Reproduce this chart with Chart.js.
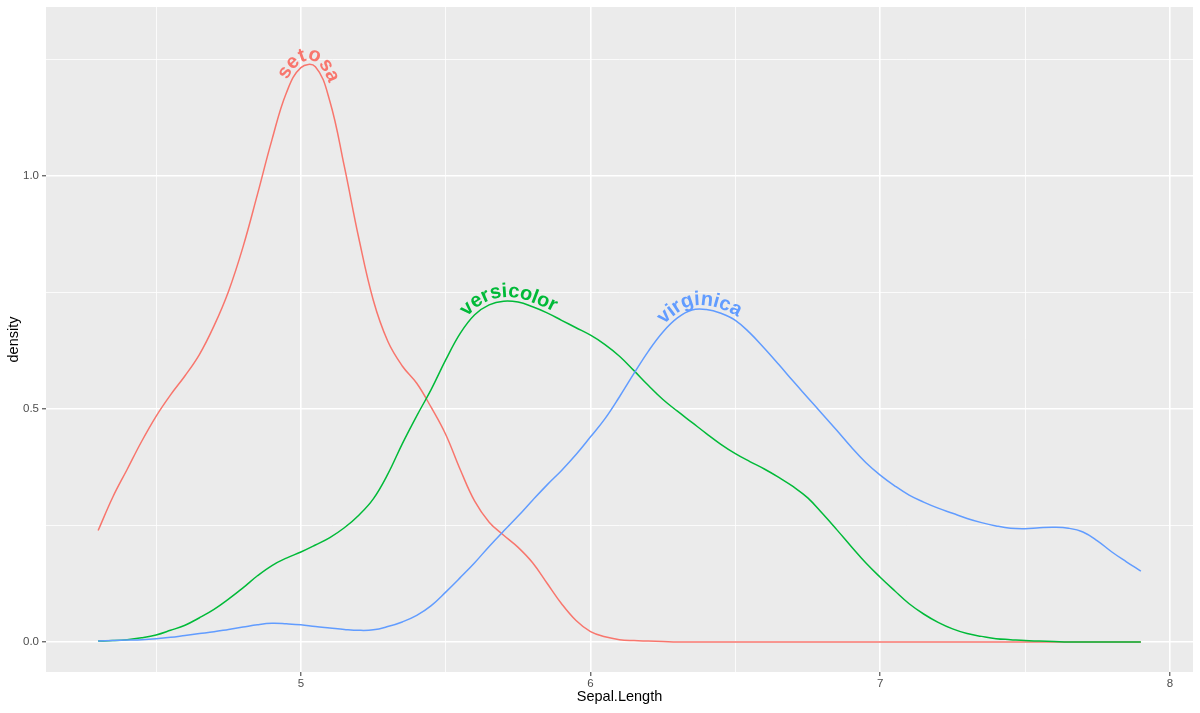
<!DOCTYPE html>
<html>
<head>
<meta charset="utf-8">
<script src="https://cdn.jsdelivr.net/npm/chart.js@4"></script>
<style>
html,body{margin:0;padding:0;background:#ffffff;}
#wrap{width:1200px;height:713px;}
</style>
</head>
<body>
<div id="wrap"><canvas id="c" width="1200" height="713"></canvas></div>
<script>
// ---- Data ----
const sepalLength = [4.30,4.35,4.40,4.45,4.50,4.55,4.60,4.65,4.70,4.75,4.80,4.85,4.90,4.95,5.00,5.05,5.10,5.15,5.20,5.25,5.30,5.35,5.40,5.45,5.50,5.55,5.60,5.65,5.70,5.75,5.80,5.85,5.90,5.95,6.00,6.05,6.10,6.15,6.20,6.25,6.30,6.35,6.40,6.45,6.50,6.55,6.60,6.65,6.70,6.75,6.80,6.85,6.90,6.95,7.00,7.05,7.10,7.15,7.20,7.25,7.30,7.35,7.40,7.45,7.50,7.55,7.60,7.65,7.70,7.75,7.80,7.85,7.90];

const setosa = [0.239,0.310,0.370,0.430,0.484,0.530,0.571,0.617,0.678,0.752,0.847,0.960,1.077,1.178,1.232,1.234,1.160,1.020,0.866,0.733,0.645,0.592,0.555,0.503,0.445,0.370,0.302,0.257,0.229,0.203,0.170,0.126,0.082,0.046,0.022,0.011,0.005,0.003,0.002,0.001,0,0,0,0,0,0,0,0,0,0,0,0,0,0,0,0,0,0,0,0,0,0,0,0,0,0,0,0,0,0,0,0,0];

const versicolor = [0.002,0.003,0.005,0.009,0.015,0.025,0.036,0.052,0.070,0.092,0.116,0.142,0.164,0.180,0.193,0.208,0.224,0.245,0.272,0.307,0.360,0.425,0.485,0.542,0.605,0.662,0.702,0.723,0.731,0.729,0.719,0.706,0.690,0.674,0.658,0.638,0.613,0.582,0.550,0.520,0.495,0.471,0.447,0.424,0.404,0.387,0.371,0.353,0.333,0.309,0.276,0.241,0.205,0.170,0.139,0.110,0.082,0.060,0.042,0.028,0.018,0.012,0.007,0.005,0.003,0.002,0.001,0,0,0,0,0,0];

const virginica = [0.002,0.003,0.004,0.005,0.007,0.010,0.014,0.018,0.022,0.027,0.032,0.037,0.040,0.039,0.037,0.033,0.030,0.027,0.025,0.026,0.033,0.043,0.057,0.078,0.107,0.138,0.170,0.205,0.238,0.270,0.304,0.337,0.368,0.402,0.440,0.479,0.526,0.576,0.624,0.665,0.695,0.712,0.713,0.705,0.690,0.663,0.630,0.595,0.559,0.524,0.489,0.454,0.418,0.385,0.358,0.335,0.315,0.300,0.287,0.276,0.265,0.256,0.249,0.244,0.243,0.245,0.246,0.244,0.236,0.217,0.193,0.172,0.152];

const speciesNames = ['setosa','versicolor','virginica'];
const speciesColors = ['#F8766D','#00BA38','#619CFF'];

const xTickValues = [5,6,7,8];
const xTickLabels = ['5','6','7','8'];
const xMinorValues = [4.5,5.5,6.5,7.5];
const yTickValues = [0,0.5,1.0];
const yTickLabels = ['0.0','0.5','1.0'];
const yMinorValues = [0.25,0.75,1.25];

const xTitle = 'Sepal.Length';
const yTitle = 'density';

// ---- Chart ----
const FONT = '"Liberation Sans", Arial, Helvetica, sans-serif';
Chart.defaults.font.family = FONT;

const seriesValues = [setosa, versicolor, virginica];

function idxOf(arr, v){ for(let i=0;i<arr.length;i++){ if(Math.abs(arr[i]-v)<1e-9) return i; } return -1; }

const panelBg = {
  id: 'panelBg',
  beforeDraw(chart){
    const {ctx, chartArea:a} = chart;
    ctx.save();
    ctx.fillStyle = '#EBEBEB';
    ctx.fillRect(a.left, a.top, a.right - a.left, a.bottom - a.top);
    ctx.restore();
  }
};

const textPath = {
  id: 'textPath',
  afterDatasetsDraw(chart){
    const ctx = chart.ctx;
    const a = chart.chartArea;
    ctx.save();
    ctx.beginPath();
    ctx.rect(a.left, a.top, a.right - a.left, a.bottom - a.top);
    ctx.clip();
    ctx.font = 'bold 20px ' + FONT;
    ctx.textAlign = 'center';
    ctx.textBaseline = 'alphabetic';
    chart.data.datasets.forEach((ds, di) => {
      const pts = chart.getDatasetMeta(di).data;
      const dense = [];
      const N = 12;
      for (let i = 0; i < pts.length - 1; i++) {
        const p = pts[i], q = pts[i+1];
        const c1x = (p.cp2x !== undefined) ? p.cp2x : p.x;
        const c1y = (p.cp2y !== undefined) ? p.cp2y : p.y;
        const c2x = (q.cp1x !== undefined) ? q.cp1x : q.x;
        const c2y = (q.cp1y !== undefined) ? q.cp1y : q.y;
        for (let k = 0; k < N; k++) {
          const t = k / N, u = 1 - t;
          dense.push({
            x: u*u*u*p.x + 3*u*u*t*c1x + 3*u*t*t*c2x + t*t*t*q.x,
            y: u*u*u*p.y + 3*u*u*t*c1y + 3*u*t*t*c2y + t*t*t*q.y
          });
        }
      }
      const last = pts[pts.length-1];
      dense.push({x: last.x, y: last.y});
      const off = 4;
      const op = dense.map((p, i) => {
        const p0 = dense[Math.max(0, i-2)], p1 = dense[Math.min(dense.length-1, i+2)];
        let tx = p1.x - p0.x, ty = p1.y - p0.y;
        const L = Math.hypot(tx, ty) || 1; tx /= L; ty /= L;
        return {x: p.x + ty*off, y: p.y - tx*off};
      });
      const cum = [0];
      for (let i = 1; i < op.length; i++) cum.push(cum[i-1] + Math.hypot(op[i].x-op[i-1].x, op[i].y-op[i-1].y));
      let peak = 0;
      for (let i = 1; i < dense.length; i++) if (dense[i].y < dense[peak].y) peak = i;
      const s0 = cum[peak];
      function at(s){
        let j = 0;
        while (j < cum.length - 2 && cum[j+1] < s) j++;
        const seg = cum[j+1] - cum[j] || 1;
        const f = Math.max(0, Math.min(1, (s - cum[j]) / seg));
        return {x: op[j].x + (op[j+1].x - op[j].x)*f, y: op[j].y + (op[j+1].y - op[j].y)*f};
      }
      const label = ds.label;
      const W = ctx.measureText(label).width;
      ctx.fillStyle = ds.borderColor;
      for (let i = 0; i < label.length; i++) {
        const st = ctx.measureText(label.slice(0, i)).width;
        const w = ctx.measureText(label.slice(0, i+1)).width - st;
        const s = s0 - W/2 + st + w/2;
        const pa = at(s - w/2), pb = at(s + w/2), pc = at(s);
        const ang = Math.atan2(pb.y - pa.y, pb.x - pa.x);
        ctx.save();
        ctx.translate(pc.x, pc.y);
        ctx.rotate(ang);
        ctx.fillText(label[i], 0, 0);
        ctx.restore();
      }
    });
    ctx.restore();
  }
};

new Chart(document.getElementById('c'), {
  type: 'line',
  data: {
    datasets: speciesNames.map((name, i) => ({
      label: name,
      data: sepalLength.map((x, j) => ({x: x, y: seriesValues[i][j]})),
      borderColor: speciesColors[i],
      backgroundColor: speciesColors[i],
      borderWidth: 1.5,
      pointRadius: 0,
      pointHoverRadius: 0,
      fill: false,
      tension: 0.4,
      order: 2 - i
    }))
  },
  options: {
    responsive: false,
    animation: false,
    devicePixelRatio: 1,
    events: [],
    layout: {padding: {top: 7, right: 7, left: 0, bottom: 0}},
    plugins: {legend: {display: false}, tooltip: {enabled: false}},
    scales: {
      x: {
        type: 'linear',
        min: 4.12, max: 8.08,
        afterBuildTicks: (s) => {
          s.ticks = xMinorValues.concat(xTickValues).sort((p, q) => p - q).map(v => ({value: v}));
        },
        ticks: {
          autoSkip: false, maxRotation: 0, minRotation: 0, padding: 1,
          color: '#4D4D4D', font: {size: 11.5, family: FONT},
          callback: (v) => { const k = idxOf(xTickValues, v); return k >= 0 ? xTickLabels[k] : ''; }
        },
        grid: {
          color: '#FFFFFF',
          lineWidth: (c) => idxOf(xTickValues, c.tick.value) >= 0 ? 1.6 : 0.8,
          tickLength: 4,
          tickWidth: 1,
          tickColor: (c) => idxOf(xTickValues, c.tick.value) >= 0 ? '#333333' : 'rgba(0,0,0,0)'
        },
        border: {display: false},
        title: {display: true, text: xTitle, color: '#000000', font: {size: 14.5, family: FONT}, padding: {top: 0, bottom: 7}},
        afterFit: (s) => { s.height = 41; s.paddingLeft = 0; s.paddingRight = 0; }
      },
      y: {
        type: 'linear',
        min: -0.0644, max: 1.362,
        afterBuildTicks: (s) => {
          s.ticks = yTickValues.concat(yMinorValues).sort((p, q) => p - q).map(v => ({value: v}));
        },
        ticks: {
          autoSkip: false, padding: 3,
          color: '#4D4D4D', font: {size: 11.5, family: FONT},
          callback: (v) => { const k = idxOf(yTickValues, v); return k >= 0 ? yTickLabels[k] : ''; }
        },
        grid: {
          color: '#FFFFFF',
          lineWidth: (c) => idxOf(yTickValues, c.tick.value) >= 0 ? 1.6 : 0.8,
          tickLength: 4,
          tickWidth: 1,
          tickColor: (c) => idxOf(yTickValues, c.tick.value) >= 0 ? '#333333' : 'rgba(0,0,0,0)'
        },
        border: {display: false},
        title: {display: true, text: yTitle, color: '#000000', font: {size: 14.5, family: FONT}, padding: {top: 5, bottom: 0}},
        afterFit: (s) => { s.width = 46; s.paddingTop = 0; s.paddingBottom = 0; }
      }
    }
  },
  plugins: [panelBg, textPath]
});
</script>
</body>
</html>
